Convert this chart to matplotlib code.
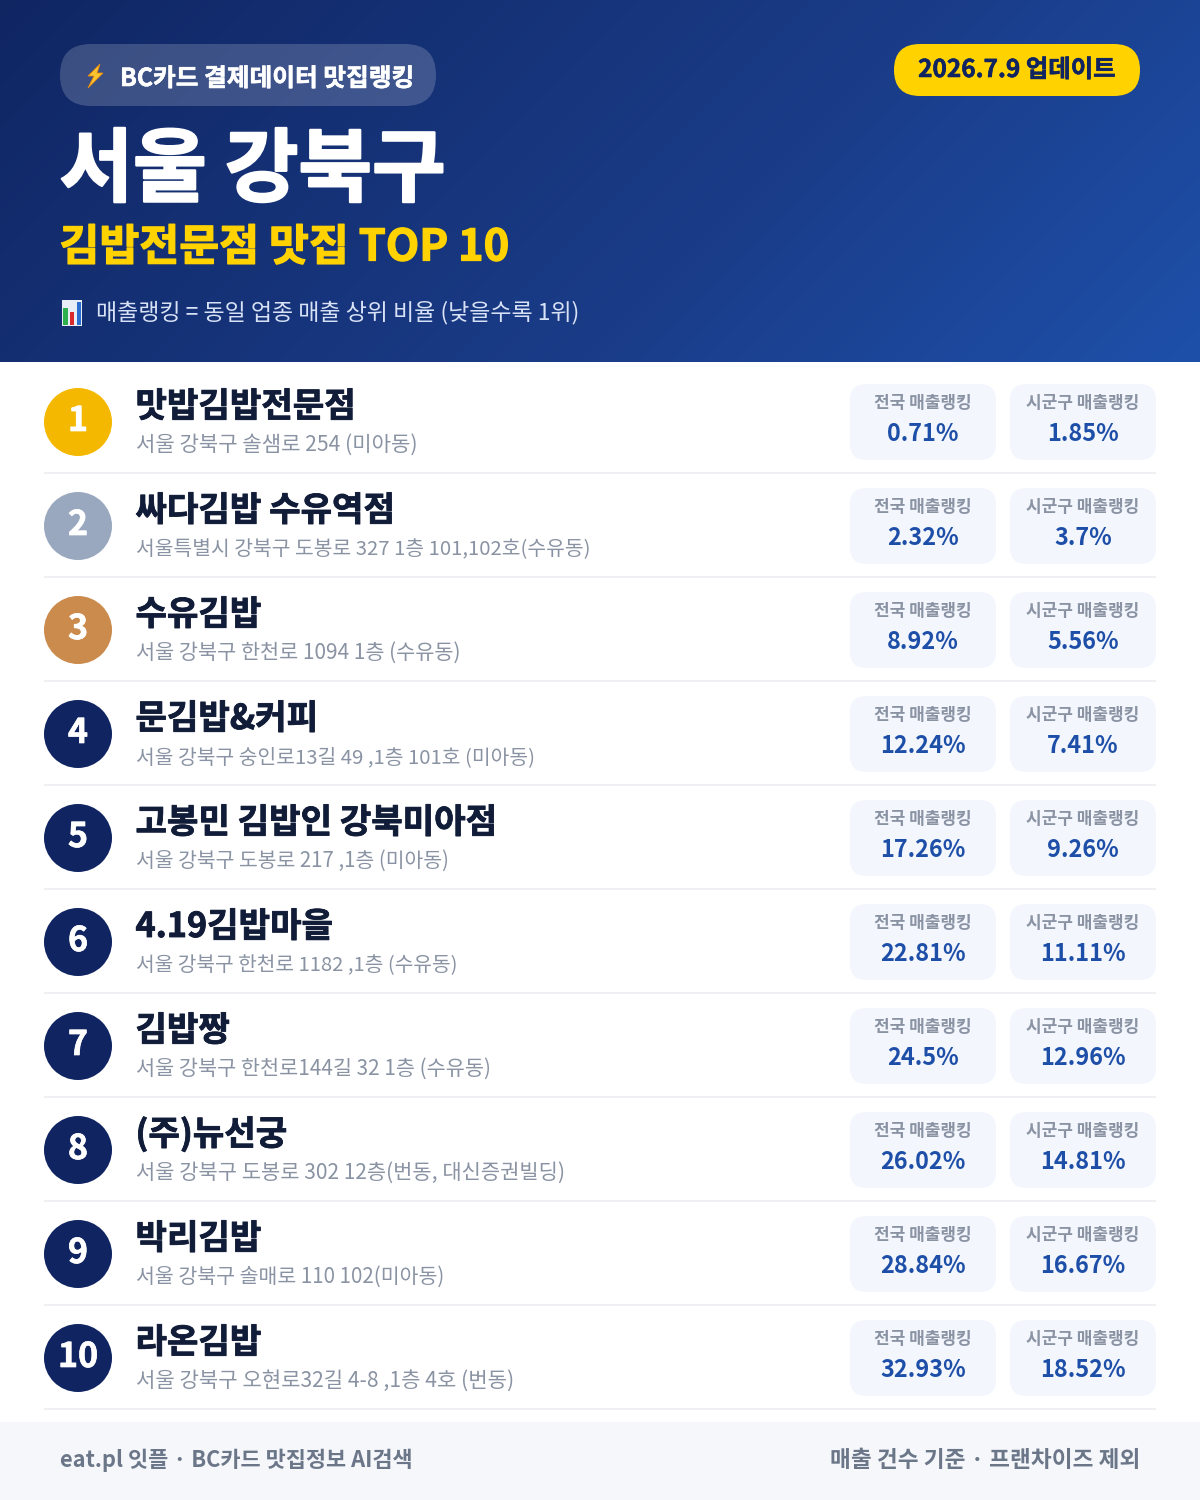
import numpy as np
import matplotlib.pyplot as plt
import matplotlib.patheffects as pe
from matplotlib.patches import Circle, FancyBboxPatch, Polygon, Rectangle

plt.rcParams['font.family'] = ['Noto Sans CJK KR', 'DejaVu Sans']

names = ["맛밥김밥전문점", "싸다김밥 수유역점", "수유김밥", "문김밥&커피", "고봉민 김밥인 강북미아점",
         "4.19김밥마을", "김밥짱", "(주)뉴선궁", "박리김밥", "라온김밥"]
addresses = ["서울 강북구 솔샘로 254 (미아동)",
             "서울특별시 강북구 도봉로 327 1층 101,102호(수유동)",
             "서울 강북구 한천로 1094 1층 (수유동)",
             "서울 강북구 숭인로13길 49 ,1층 101호 (미아동)",
             "서울 강북구 도봉로 217 ,1층 (미아동)",
             "서울 강북구 한천로 1182 ,1층 (수유동)",
             "서울 강북구 한천로144길 32 1층 (수유동)",
             "서울 강북구 도봉로 302 12층(번동, 대신증권빌딩)",
             "서울 강북구 솔매로 110 102(미아동)",
             "서울 강북구 오현로32길 4-8 ,1층 4호 (번동)"]
national = ["0.71%", "2.32%", "8.92%", "12.24%", "17.26%", "22.81%", "24.5%", "26.02%", "28.84%", "32.93%"]
district = ["1.85%", "3.7%", "5.56%", "7.41%", "9.26%", "11.11%", "12.96%", "14.81%", "16.67%", "18.52%"]
medal_colors = ["#F5B800", "#9AA8BF", "#CB8B4C"]

# right edge of each address line in the image
address_right = [417, 590, 461, 535, 449, 458, 490, 564, 445, 513]

NAVY = "#0F2460"
BLUE = "#1E4FA8"
YELLOW = "#FFD200"
DARK = "#111C38"


def px(size):
    # font size in image pixels -> points at dpi 100
    return size * 0.72


def thick(lw, color):
    # the source uses a heavier weight than the installed Bold
    return [pe.withStroke(linewidth=lw, foreground=color)]


def rounded(ax, x, y, w, h, r, color, alpha=1.0, z=2):
    ax.add_patch(FancyBboxPatch((x + r, y + r), w - 2 * r, h - 2 * r,
                                boxstyle=f"round,pad={r},rounding_size={r}",
                                fc=color, ec="none", alpha=alpha, zorder=z))


fig = plt.figure(figsize=(12, 15), dpi=100)
ax = fig.add_axes([0, 0, 1, 1])
renderer = fig.canvas.get_renderer()

# header gradient
gy, gx = np.mgrid[0:362, 0:1200]
g = (gx + gy) / (1200 + 362)
stops = [np.interp(g, [0, 0.6, 1], [a, b, c]) for a, b, c in
         [(0x10, 0x1A, 0x1E), (0x26, 0x3C, 0x50), (0x63, 0x88, 0xAA)]]
img = np.dstack(stops) / 255
ax.imshow(img, extent=(0, 1200, 362, 0), aspect="auto", zorder=1)
ax.set_xlim(0, 1200)
ax.set_ylim(1500, 0)
ax.axis("off")

# badge top left
rounded(ax, 60, 44, 376, 62, 31, "#FFFFFF", alpha=0.18)
ax.add_patch(Polygon([(100, 64), (88, 76), (94, 76), (88, 88), (103, 73), (97, 73)],
                     fc="#FBC531", ec="#E8890C", lw=0.6, zorder=3))
ax.text(120, 86, "BC카드 결제데이터 맛집랭킹", color="white", fontsize=px(24.7), fontweight="bold",
        ha="left", va="baseline", zorder=3, path_effects=thick(0.4, "white"))

# update pill
rounded(ax, 894, 44, 246, 52, 26, YELLOW)
ax.text(1017, 77, "2026.7.9 업데이트", color=NAVY, fontsize=px(24.4), fontweight="bold",
        ha="center", va="baseline", zorder=3, path_effects=thick(0.4, NAVY))

ax.text(59.5, 195, "서울 강북구", color="white", fontsize=px(80), fontweight="bold",
        ha="left", va="baseline", zorder=3, path_effects=thick(1.6, "white"))
ax.text(59.5, 260.5, "김밥전문점 맛집 TOP 10", color=YELLOW, fontsize=px(43.4), fontweight="bold",
        ha="left", va="baseline", zorder=3, path_effects=thick(0.9, YELLOW))

# small bar chart icon
ax.add_patch(Rectangle((62, 300), 20, 26, fc="#E8EEF6", ec="none", zorder=3))
ax.add_patch(Rectangle((63, 308), 4.5, 17, fc="#2EB04F", ec="none", zorder=4))
ax.add_patch(Rectangle((70, 312), 4, 13, fc="#D92B2B", ec="none", zorder=4))
ax.add_patch(Rectangle((76.5, 302), 4.5, 23, fc="#2A6FD0", ec="none", zorder=4))
ax.text(96, 319, "매출랭킹 = 동일 업종 매출 상위 비율 (낮을수록 1위)", color="#D8E2F6", fontsize=px(23),
        ha="left", va="baseline", zorder=3)

# rows
for i in range(len(names)):
    top = 104 * i
    color = medal_colors[i] if i < len(medal_colors) else NAVY
    ax.add_patch(Circle((78, 422 + top), 34, fc=color, ec="none", zorder=2))
    ax.text(78, 431 + top, str(i + 1), color="white", fontsize=px(34), fontweight="bold",
            ha="center", va="baseline", zorder=3, path_effects=thick(0.5, "white"))
    ax.text(135.5, 417 + top, names[i], color=DARK, fontsize=px(34.2), fontweight="bold",
            ha="left", va="baseline", zorder=3, path_effects=thick(0.6, DARK))
    t = ax.text(135.5, 451 + top, addresses[i], color="#8A93A3", fontsize=px(20.7),
                ha="left", va="baseline", zorder=3)
    # the source font runs tighter, so scale each line to its measured width
    width = t.get_window_extent(renderer).width
    t.set_fontsize(t.get_fontsize() * (address_right[i] - 136) / width)
    for bx, label, value in [(850, "전국 매출랭킹", national[i]), (1010, "시군구 매출랭킹", district[i])]:
        rounded(ax, bx, 384 + top, 146, 76, 16, "#F3F6FC")
        ax.text(bx + 73, 408 + top, label, color="#8A93A3", fontsize=px(17), fontweight="bold",
                ha="center", va="baseline", zorder=3)
        ax.text(bx + 73, 441 + top, value, color=BLUE, fontsize=px(23.5), fontweight="bold",
                ha="center", va="baseline", zorder=3)
    ax.add_patch(Rectangle((44, 472 + top), 1112, 2, fc="#EEF0F3", ec="none", zorder=2))

# footer
ax.add_patch(Rectangle((0, 1422), 1200, 78, fc="#F5F7FB", ec="none", zorder=1))
ax.text(60, 1467, "eat.pl 잇플 · BC카드 맛집정보 AI검색", color="#6B7688", fontsize=px(21.9), fontweight="bold",
        ha="left", va="baseline", zorder=3)
ax.text(1140, 1467, "매출 건수 기준 · 프랜차이즈 제외", color="#6B7688", fontsize=px(22.65), fontweight="bold",
        ha="right", va="baseline", zorder=3)

fig.savefig("out.png", dpi=100)
